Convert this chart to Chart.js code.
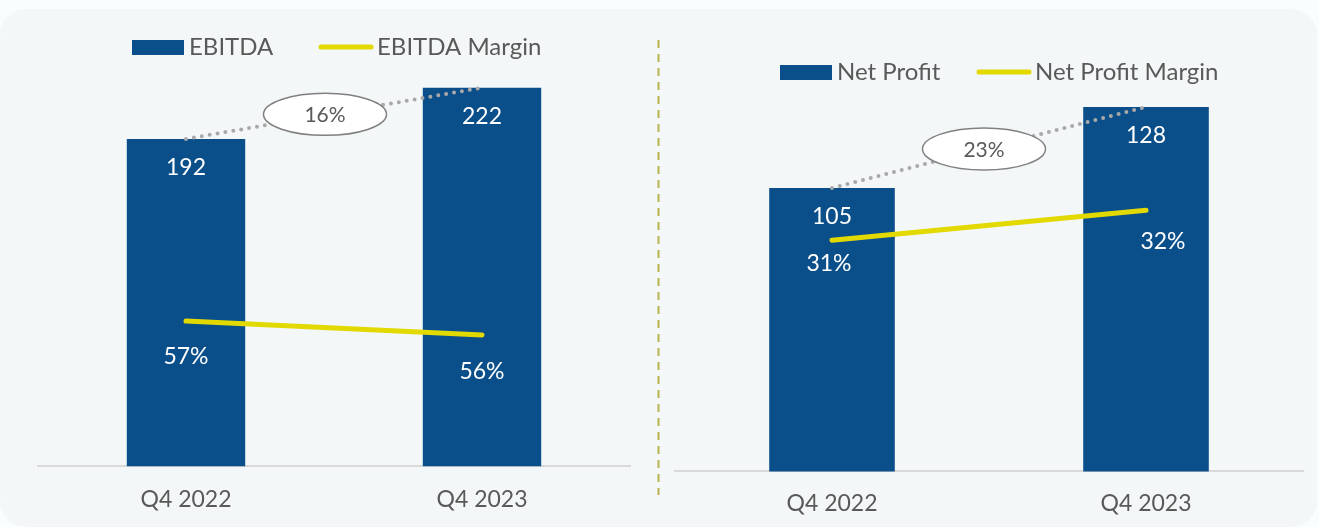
<!DOCTYPE html>
<html>
<head>
<meta charset="utf-8">
<script src="https://cdn.jsdelivr.net/npm/chart.js@4.4.0/dist/chart.umd.min.js"></script>
<style>
  html, body { margin: 0; padding: 0; background: #f8fdfd; overflow: hidden; }
  #panel { position: absolute; left: 0; top: 9px; width: 1317px; height: 518px; background: #f3f7f8; border-radius: 26px; }
  .box { position: absolute; top: 0; height: 545px; }
  #left { left: 0; width: 662px; }
  #right { left: 662px; width: 657px; }
</style>
</head>
<body>
<div id="panel"></div>
<div class="box" id="left"><canvas id="c1" width="662" height="545"></canvas></div>
<div class="box" id="right"><canvas id="c2" width="657" height="545"></canvas></div>
<script>
const quarters = ['Q4 2022', 'Q4 2023'];
const ebitda = [192, 222];
const ebitdaMargin = [57, 56];
const netProfit = [105, 128];
const netProfitMargin = [31, 32];
const ebitdaGrowth = '16%';
const netProfitGrowth = '23%';

const BLUE = '#0b4f8a';
const YELLOW = '#e2d900';
const GREY_TEXT = '#595959';
const FONT = 'Lato';

// labels, connector, ellipse and legend drawn on top of the datasets
const decor = {
  id: 'decor',
  afterDatasetsDraw(chart, args, o) {
    const ctx = chart.ctx;
    const bars = chart.getDatasetMeta(0).data;
    const pts = chart.getDatasetMeta(1).data;
    ctx.save();

    ctx.strokeStyle = '#a9a9a9';
    ctx.lineWidth = 4;
    ctx.lineCap = 'round';
    ctx.setLineDash([0, 8]);
    ctx.beginPath();
    ctx.moveTo(bars[0].x, bars[0].y);
    ctx.lineTo(bars[1].x, bars[1].y);
    ctx.stroke();
    ctx.setLineDash([]);

    const ex = (bars[0].x + bars[1].x) / 2 + o.ellipseDx;
    const ey = (bars[0].y + bars[1].y) / 2 + o.ellipseDy;
    ctx.beginPath();
    ctx.ellipse(ex, ey, 61.5, 21, 0, 0, Math.PI * 2);
    ctx.fillStyle = '#ffffff';
    ctx.fill();
    ctx.strokeStyle = '#808080';
    ctx.lineWidth = 1.5;
    ctx.stroke();

    ctx.textAlign = 'center';
    ctx.textBaseline = 'middle';
    ctx.font = '21px ' + FONT;
    ctx.fillStyle = GREY_TEXT;
    ctx.fillText(o.growth, ex, ey + 1);

    ctx.fillStyle = '#ffffff';
    ctx.font = '23px ' + FONT;
    const vals = chart.data.datasets[0].data;
    const pcts = chart.data.datasets[1].data;
    bars.forEach((b, i) => ctx.fillText(vals[i], b.x, b.y + 29));
    pts.forEach((p, i) => ctx.fillText(pcts[i] + '%', p.x + o.pctDx[i], p.y + o.pctDy[i]));

    // legend
    const lg = o.legend;
    ctx.fillStyle = BLUE;
    ctx.fillRect(lg.x, lg.y, 52, 15);
    ctx.strokeStyle = YELLOW;
    ctx.lineWidth = 5;
    ctx.beginPath();
    ctx.moveTo(lg.lineX + 3, lg.y + 7);
    ctx.lineTo(lg.lineX + 53, lg.y + 7);
    ctx.stroke();
    ctx.font = '24px ' + FONT;
    ctx.fillStyle = GREY_TEXT;
    ctx.textAlign = 'left';
    ctx.fillText(chart.data.datasets[0].label, lg.x + 57, lg.y + 7);
    ctx.fillText(chart.data.datasets[1].label, lg.lineX + 59, lg.y + 7);

    if (o.separator) {
      ctx.strokeStyle = '#b8b24e';
      ctx.lineWidth = 2;
      ctx.lineCap = 'butt';
      ctx.setLineDash([8, 6]);
      ctx.beginPath();
      ctx.moveTo(658.5, 40);
      ctx.lineTo(658.5, 495);
      ctx.stroke();
    }
    ctx.restore();
  }
};

function makeChart(id, barLabel, barData, lineLabel, lineData, cfg) {
  return new Chart(document.getElementById(id), {
    type: 'bar',
    data: {
      labels: quarters,
      datasets: [
        { type: 'bar', label: barLabel, data: barData, backgroundColor: BLUE,
          barPercentage: 0.4, categoryPercentage: 1, yAxisID: 'y', order: 1 },
        { type: 'line', label: lineLabel, data: lineData, borderColor: YELLOW, borderWidth: 5,
          borderCapStyle: 'round', pointRadius: 0, yAxisID: 'y2', order: 0 }
      ]
    },
    options: {
      responsive: false,
      animation: false,
      layout: { padding: cfg.padding },
      plugins: {
        legend: { display: false },
        tooltip: { enabled: false },
        decor: cfg.decor
      },
      scales: {
        x: {
          grid: { display: false, drawTicks: false },
          border: { display: true, color: '#d9d9d9', width: 2 },
          ticks: { color: GREY_TEXT, font: { family: FONT, size: 23 }, padding: cfg.tickPad }
        },
        y: { display: false, min: cfg.yMin, max: cfg.yMax },
        y2: { display: false, min: cfg.y2Min, max: cfg.y2Max }
      }
    },
    plugins: [decor]
  });
}

makeChart('c1', 'EBITDA', ebitda, 'EBITDA Margin', ebitdaMargin, {
  padding: { top: 40, left: 38, right: 32, bottom: 13 },
  tickPad: 19,
  yMin: 0, yMax: 250,
  y2Min: 46.6, y2Max: 77.1,
  decor: {
    growth: ebitdaGrowth, ellipseDx: -9, ellipseDy: 1,
    pctDx: [0, 0], pctDy: [36, 37],
    legend: { x: 132, y: 40, lineX: 318 },
    separator: true
  }
});

makeChart('c2', 'Net Profit', netProfit, 'Net Profit Margin', netProfitMargin, {
  padding: { top: 40, left: 13, right: 16, bottom: 10 },
  tickPad: 18,
  yMin: 24.6, yMax: 147,
  y2Min: 23.3, y2Max: 37.67,
  decor: {
    growth: netProfitGrowth, ellipseDx: -5, ellipseDy: 1.5,
    pctDx: [-3, 17], pctDy: [23, 31],
    legend: { x: 118, y: 65, lineX: 314 },
    separator: false
  }
});
</script>
</body>
</html>
